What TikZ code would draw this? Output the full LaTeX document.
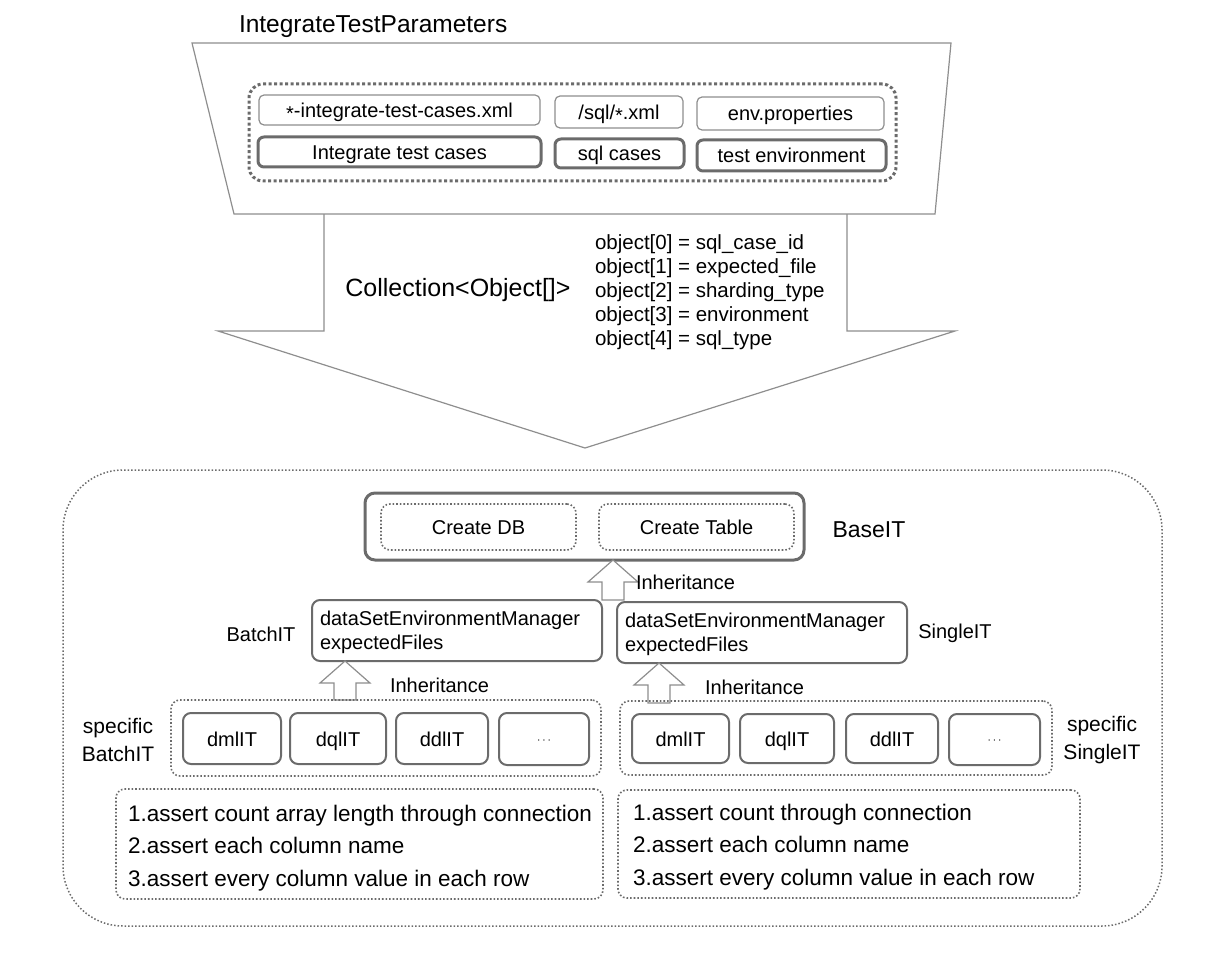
\documentclass[tikz,border=0pt]{standalone}
\usepackage{fontspec}
\setmainfont{Liberation Sans}
\usetikzlibrary{calc}
\definecolor{ln}{HTML}{8E8E8E}
\definecolor{dk}{HTML}{6B6B6B}
\newcommand\inharrow[2]{%
  \draw[inhs] let \p1=#1, \p2=#2 in
   (\x1-11pt,\y1) -- (\x1-11pt,\y2-22pt) -- (\x1-25pt,\y2-22pt) -- (\x1,\y2)
   -- (\x1+25pt,\y2-22pt) -- (\x1+11pt,\y2-22pt) -- (\x1+11pt,\y1) -- cycle;}
\begin{document}
\begin{tikzpicture}[x=1pt,y=-1pt,
  every node/.style={inner sep=0pt,outer sep=0pt,text=black},
  fa/.style={font=\fontsize{20}{24}\selectfont},
  fb/.style={font=\fontsize{23}{26}\selectfont},
  tb/.style={text height=17pt,text depth=2pt},
  thinbox/.style={draw=ln,line width=1.2pt,rounded corners=5pt,fa,tb},
  thickbox/.style={draw=dk,line width=3pt,rounded corners=6pt,fa,tb},
  midbox/.style={draw=dk,line width=2pt,rounded corners=8pt,fa,tb},
  dotbox/.style={draw=dk,line width=1.6pt,dotted,rounded corners=9pt,tb},
  dotbig/.style={draw=dk,line width=3pt,dash pattern=on 3pt off 2.5pt,rounded corners=14pt},
  outline/.style={draw=ln,line width=1.2pt},
  inhs/.style={draw=ln,line width=1.2pt,fill=white}]
\useasboundingbox (0,0) rectangle (1228,960);

% title
\node[font=\fontsize{24.5}{28}\selectfont,anchor=west] (title) at (239,27) {IntegrateTestParameters};

% trapezoid and big arrow
\draw[outline] (192,43) -- (951,43) -- (935,214) -- (234,214) -- cycle;
\draw[outline] (324,214) -- (324,331) -- (218,331) -- (585,448) -- (955,331) -- (847,331) -- (847,214);

% parameter sources
\node[dotbig,minimum width=647,minimum height=97] (src) at (572.5,132.5) {};
\node[thinbox,minimum width=281,minimum height=30] (f1) at (399.5,110) {\raisebox{-0.3ex}{*}-integrate-test-cases.xml};
\node[thinbox,minimum width=128,minimum height=32] (f2) at (619,112) {/sql/\raisebox{-0.3ex}{*}.xml};
\node[thinbox,minimum width=187,minimum height=33] (f3) at (790.5,113.5) {env.properties};
\node[thickbox,minimum width=283,minimum height=30] (c1) at (399.5,152) {Integrate test cases};
\node[thickbox,minimum width=129,minimum height=29] (c2) at (619.5,153.5) {sql cases};
\node[thickbox,minimum width=189,minimum height=31] (c3) at (791.5,155.5) {test environment};

% collection
\node[font=\fontsize{25}{28}\selectfont] (coll) at (458,290) {Collection<Object[]>};
\node[font=\fontsize{20.5}{24}\selectfont,anchor=west,align=left] (objs) at (595,292)
 {object[0] = sql\_case\_id\\object[1] = expected\_file\\object[2] = sharding\_type\\object[3] = environment\\object[4] = sql\_type};

% outer container
\node[draw=dk,line width=1.5pt,dotted,rounded corners=60pt,minimum width=1099,minimum height=456] (outer) at (612.5,698) {};

% BaseIT
\node[thickbox,rounded corners=10pt,minimum width=439,minimum height=67] (base) at (584.5,526.5) {};
\node[dotbox,fa,minimum width=195,minimum height=46] (cdb) at (478.5,527) {Create DB};
\node[dotbox,fa,minimum width=195,minimum height=46] (ctb) at (696.5,527) {Create Table};
\node[fb] (baselbl) at (869,530) {BaseIT};

% Batch / Single
\node[midbox,minimum width=290,minimum height=61] (batch) at (457,630.5) {};
\node[fa,anchor=west,align=left] (batchtxt) at (320,632) {dataSetEnvironmentManager\\expectedFiles};
\node[midbox,minimum width=290,minimum height=61] (single) at (762,632.5) {};
\node[fa,anchor=west,align=left] (singletxt) at (625,634) {dataSetEnvironmentManager\\expectedFiles};
\node[fa] (batchlbl) at (261,634) {BatchIT};
\node[fa] (singlelbl) at (955,633) {SingleIT};

% inheritance arrows
\coordinate (i1b) at (613,600);
\coordinate (i1t) at (base.south -| i1b);
\inharrow{(i1b)}{(i1t)}
\node[fa,anchor=west] (inh1) at (636,582) {Inheritance};

\coordinate (i2b) at (345,700);
\coordinate (i2t) at (batch.south -| i2b);
\inharrow{(i2b)}{(i2t)}
\node[fa,anchor=west] (inh2) at (390,685) {Inheritance};

\coordinate (i3b) at (659,703);
\coordinate (i3t) at (single.south -| i3b);
\inharrow{(i3b)}{(i3t)}
\node[fa,anchor=west] (inh3) at (705,687) {Inheritance};

% specific boxes
\node[dotbox,minimum width=430,minimum height=76] (sb) at (386,738) {};
\node[midbox,minimum width=98,minimum height=51] (b1) at (232,738.5) {dmlIT};
\node[midbox,minimum width=96,minimum height=51] (b2) at (338,738.5) {dqlIT};
\node[midbox,minimum width=92,minimum height=51] (b3) at (442,738.5) {ddlIT};
\node[midbox,minimum width=90,minimum height=52] (b4) at (544,739) {\raisebox{0.3ex}{\fontsize{12}{12}\selectfont\textbf{$\cdots$}}};
\node[align=center,font=\fontsize{21}{28}\selectfont] (sblbl) at (118,740) {specific\\BatchIT};

\node[dotbox,minimum width=432,minimum height=74] (ss) at (836,738) {};
\node[midbox,minimum width=97,minimum height=49] (s1) at (680.5,738.5) {dmlIT};
\node[midbox,minimum width=94,minimum height=49] (s2) at (787,738.5) {dqlIT};
\node[midbox,minimum width=92,minimum height=49] (s3) at (892,738.5) {ddlIT};
\node[midbox,minimum width=91,minimum height=51] (s4) at (994.5,739.5) {\raisebox{0.3ex}{\fontsize{12}{12}\selectfont\textbf{$\cdots$}}};
\node[align=center,font=\fontsize{21}{28}\selectfont] (sslbl) at (1102,740) {specific\\SingleIT};

% assertion boxes
\node[dotbox,minimum width=487,minimum height=110] (al) at (359.5,844) {};
\node[anchor=west,align=left,font=\fontsize{22.5}{32.5}\selectfont] (altxt) at (128,848)
 {1.assert count array length through connection\\2.assert each column name\\3.assert every column value in each row};
\node[dotbox,minimum width=462,minimum height=108] (ar) at (849,844) {};
\node[anchor=west,align=left,font=\fontsize{22.5}{32.5}\selectfont] (artxt) at (633,847)
 {1.assert count through connection\\2.assert each column name\\3.assert every column value in each row};
\end{tikzpicture}
\end{document}
